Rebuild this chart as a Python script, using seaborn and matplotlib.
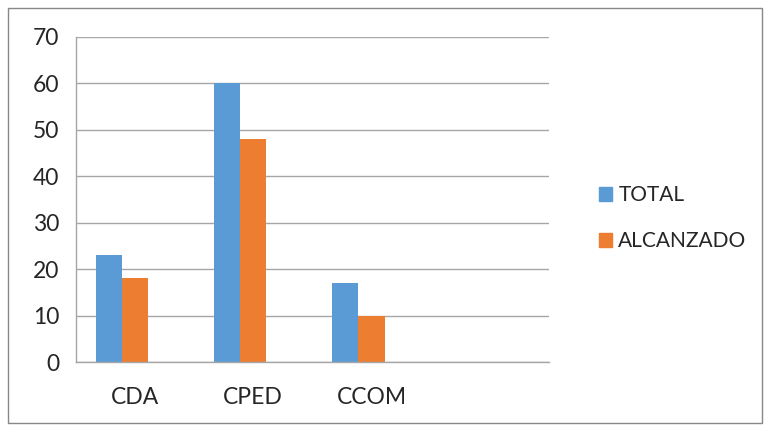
import numpy as np
import pandas as pd
import seaborn as sns
import matplotlib.pyplot as plt
from matplotlib.patches import Rectangle, Patch

categories = ["CDA", "CPED", "CCOM", ""]
total = [23, 60, 17]
alcanzado = [18, 48, 10]
series = ["TOTAL", "ALCANZADO"]
colors = ["#5B9BD5", "#ED7D31", "#A5A5A5"]

df = pd.DataFrame({
    "cat": categories[:3] * 3,
    "serie": ["TOTAL"] * 3 + ["ALCANZADO"] * 3 + ["_vacio"] * 3,
    "valor": total + alcanzado + [0, 0, 0],
})

sns.set_style("white")
plt.rcParams["font.family"] = ["Lato", "DejaVu Sans"]

fig = plt.figure(figsize=(7.65, 4.25), dpi=100)
ax = fig.add_axes([0.0993, 0.148, 0.618, 0.765])

sns.barplot(data=df, x="cat", y="valor", hue="serie", order=categories,
            hue_order=series + ["_vacio"], palette=colors, width=0.667,
            linewidth=0, saturation=1, errorbar=None, ax=ax, legend=False)

ax.set_ylim(0, 70)
ax.set_xlim(-0.5, 3.5)
ax.set_yticks(range(0, 71, 10))
ax.grid(axis="y", color="#A6A6A6", linewidth=1)
ax.set_axisbelow(True)
ax.set_xlabel("")
ax.set_ylabel("")
for s in ["top", "right"]:
    ax.spines[s].set_visible(False)
for s in ["left", "bottom"]:
    ax.spines[s].set_color("#A6A6A6")
    ax.spines[s].set_linewidth(1)
ax.set_xticks(range(4))
ax.set_xticklabels(categories)
ax.set_xticks(np.arange(-0.5, 4, 1), minor=True)
ax.tick_params(axis="x", which="major", length=0, pad=18, labelsize=16.5)
ax.tick_params(axis="x", which="minor", length=7, color="#A6A6A6", width=1)
ax.tick_params(axis="y", length=8, color="#A6A6A6", width=1, pad=4, labelsize=16.5)

handles = [Patch(color=colors[0], label=series[0]), Patch(color=colors[1], label=series[1])]
fig.legend(handles=handles, loc="center left", bbox_to_anchor=(0.758, 0.487),
           frameon=False, fontsize=15, handlelength=0.65, handleheight=0.65,
           handletextpad=0.3, labelspacing=1.25)

fig.patches.append(Rectangle((0.010, 0.004), 0.986, 0.978, transform=fig.transFigure,
                             fill=False, edgecolor="#888888", linewidth=1))

fig.savefig("out.png", dpi=100)
